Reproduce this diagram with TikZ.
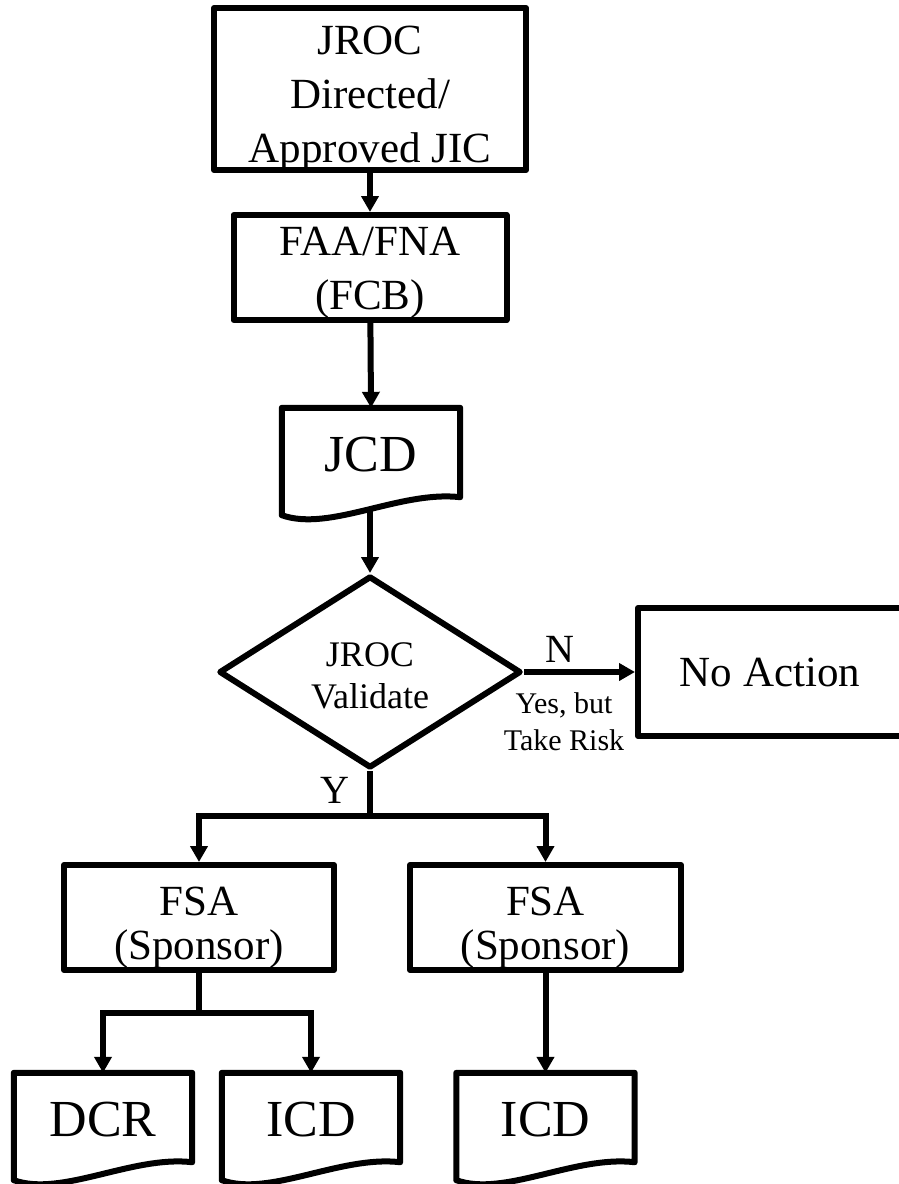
\documentclass[tikz,border=0pt]{standalone}
\usepackage{fontspec}
\setmainfont{Liberation Serif}
\usepackage{tikz}
\usetikzlibrary{positioning,calc}
\usetikzlibrary{arrows.meta, shapes.geometric}
\tikzstyle{process} = [rectangle, draw=black, line width=6pt, line join=round, inner xsep=0pt, inner ysep=-30pt, text centered, align=center, font=\fontsize{43}{54}\selectfont]
\tikzstyle{decision} = [diamond, draw=black, line width=6pt, line join=round, inner sep=0pt, minimum width=302pt, minimum height=192pt, align=center, font=\fontsize{36}{42}\selectfont]
\tikzstyle{doc} = [rectangle, inner sep=0pt, minimum width=178pt, minimum height=94pt, font=\fontsize{52}{60}\selectfont]
\tikzstyle{label} = [inner sep=0pt, font=\fontsize{40}{48}\selectfont]
\tikzstyle{line} = [line width=6pt]
\tikzstyle{arrow} = [line width=6pt,-{Triangle[width=17pt,length=16pt]}]
% strut that pushes the text block down
\def\up(#1){\rule{0pt}{#1}}
% document symbol with a wavy bottom edge
\def\docshape(#1){\draw[line, line join=round] (#1.north west) -- (#1.north east) -- ($(#1.south east)+(0,-5)$)
    .. controls ($(#1.south east)+(-60,-12)$) and ($(#1.south west)+(48,30)$) .. ($(#1.south west)+(0,13)$) -- cycle;}

\begin{document}
\begin{tikzpicture}[x=1pt,y=-1pt]
    \useasboundingbox (0,0) rectangle (899,1184);
    \node[process, minimum width=312pt, minimum height=162pt] (jic) at (370,89) {\up(49pt)JROC\\Directed/\\Approved JIC};
    \node[process, minimum width=273pt, minimum height=105pt] (fna) at (370,267.5) {\up(40pt)FAA/FNA\\(FCB)};
    \node[doc] (jcd) at (371,455) {JCD};
    \docshape(jcd)
    \node[decision] (val) at (370,672) {\up(31pt)JROC\\Validate};
    \node[process, minimum width=264pt, minimum height=128pt] (noact) at (770,672) {No Action};
    \node[label] (n) at (560,649) {N};
    \node[align=center, inner sep=0pt, font=\fontsize{30}{37}\selectfont] (risk) at (564,722) {Yes, but\\Take Risk};
    \node[label] (y) at (335,790) {Y};
    \node[process, font=\fontsize{43}{44}\selectfont, minimum width=270pt, minimum height=105pt] (fsa1) at (199,917.5) {\up(50pt)FSA\\(Sponsor)};
    \node[process, font=\fontsize{43}{44}\selectfont, minimum width=271pt, minimum height=105pt] (fsa2) at (545.5,917.5) {\up(50pt)FSA\\(Sponsor)};
    \node[doc] (dcr) at (103,1120) {DCR};
    \docshape(dcr)
    \node[doc] (icd1) at (311,1120) {ICD};
    \docshape(icd1)
    \node[doc] (icd2) at (545.5,1120) {ICD};
    \docshape(icd2)
    \coordinate (br) at (370,816);
    \coordinate (br2) at (199,1013);
    \draw[arrow] (jic) -- (fna);
    \draw[arrow] (fna) -- (jcd.north);
    \draw[arrow] (370,510) -- (val.north);
    \draw[arrow] (val.east) -- (noact);
    \draw[line] (val.south) -- (br);
    \draw[arrow] (br) -| (fsa1.north);
    \draw[arrow] (br) -| (fsa2.north);
    \draw[line] (fsa1.south) -- (br2);
    \draw[arrow] (br2) -| (dcr.north);
    \draw[arrow] (br2) -| (icd1.north);
    \draw[arrow] (fsa2) -- (icd2.north);
\end{tikzpicture}
\end{document}
